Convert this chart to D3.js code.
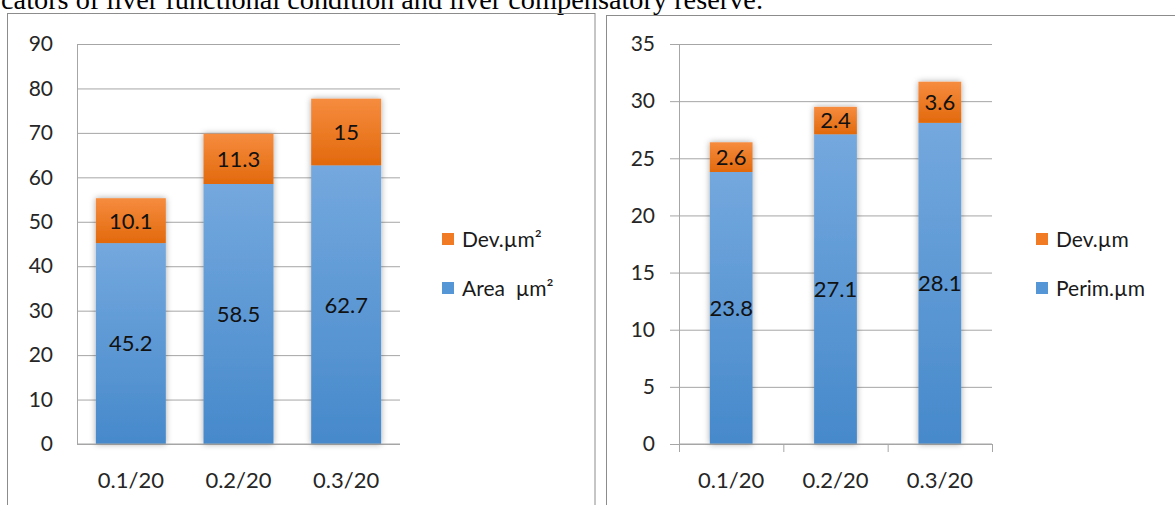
<!DOCTYPE html>
<html>
<head>
<meta charset="utf-8">
<script src="https://cdn.jsdelivr.net/npm/d3@7"></script>
<style>
  body { margin: 0; background: #fff; overflow: hidden; }
  svg { display: block; }
  .tick-label { font-family: Lato, "Open Sans", sans-serif; font-size: 21px; fill: #262626; }
  .x-label { font-family: Lato, "Open Sans", sans-serif; font-size: 22px; fill: #262626; }
  .bar-label { font-family: Lato, "Open Sans", sans-serif; font-size: 22px; fill: #111; }
  .legend-label { font-family: Lato, "Open Sans", sans-serif; font-size: 21px; fill: #1a1a1a; white-space: pre; }
</style>
</head>
<body>
<div id="chart"></div>
<script>
// data
const categories = ["0.1/20", "0.2/20", "0.3/20"];
const areaValues = [45.2, 58.5, 62.7];
const areaDev = [10.1, 11.3, 15];
const perimValues = [23.8, 27.1, 28.1];
const perimDev = [2.6, 2.4, 3.6];
const areaTicks = [0, 10, 20, 30, 40, 50, 60, 70, 80, 90];
const perimTicks = [0, 5, 10, 15, 20, 25, 30, 35];
const areaLegend = ["Dev.µm²", "Area  µm²"];
const perimLegend = ["Dev.µm", "Perim.µm"];

const width = 1175, height = 505;

const svg = d3.select("#chart")
  .append("svg")
  .attr("width", width)
  .attr("height", height);

// gradients + shadow
const defs = svg.append("defs");
const grad = (id, top, bottom) => {
  const g = defs.append("linearGradient").attr("id", id)
    .attr("x1", 0).attr("y1", 0).attr("x2", 0).attr("y2", 1);
  g.append("stop").attr("offset", "0%").attr("stop-color", top);
  g.append("stop").attr("offset", "100%").attr("stop-color", bottom);
};
grad("blueGrad", "#74a8de", "#4689cb");
grad("orangeGrad", "#f68c3f", "#e2690c");
const shadow = defs.append("filter").attr("id", "shadow")
  .attr("x", "-30%").attr("y", "-10%").attr("width", "160%").attr("height", "120%");
shadow.append("feDropShadow")
  .attr("dx", 0).attr("dy", 0).attr("stdDeviation", 3)
  .attr("flood-color", "#000").attr("flood-opacity", 0.35);

// caption line from the page (top of the glyphs is cut in the source too)
svg.append("text")
  .text("cators of liver functional condition and liver compensatory reserve.")
  .attr("x", 1)
  .attr("y", 9)
  .attr("textLength", 762)
  .attr("lengthAdjust", "spacingAndGlyphs")
  .attr("font-family", "'Liberation Serif', 'Times New Roman', serif")
  .attr("font-size", 27)
  .attr("fill", "#000");

// panel borders
svg.append("rect")
  .attr("x", 7.5).attr("y", 13.5).attr("width", 587.5).attr("height", 520)
  .attr("fill", "none").attr("stroke", "#8c8c8c");
svg.append("rect")
  .attr("x", 606.5).attr("y", 15.5).attr("width", 600).attr("height", 520)
  .attr("fill", "none").attr("stroke", "#8c8c8c");

const drawStacked = (opt) => {
  const { left, right, top, bottom, maxY, ticks, values, dev, padding, outerTicks, legend, legendX } = opt;

  const g = svg.append("g");

  const xScale = d3.scaleBand()
    .domain(categories)
    .range([left, right])
    .paddingInner(padding)
    .paddingOuter(padding / 2);

  const yScale = d3.scaleLinear()
    .domain([0, maxY])
    .range([bottom, top]);

  // gridlines
  const grid = g.append("g")
    .attr("transform", `translate(${left},0)`)
    .call(d3.axisLeft(yScale).tickValues(ticks).tickSize(-(right - left)).tickFormat(""));
  grid.select(".domain").remove();
  grid.selectAll(".tick line").attr("stroke", "#a6a6a6");

  // y axis labels + line
  const yAxis = g.append("g")
    .attr("transform", `translate(${left},0)`)
    .call(d3.axisLeft(yScale).tickValues(ticks).tickSize(outerTicks ? 9 : 0).tickPadding(outerTicks ? 15 : 24));
  yAxis.select(".domain").attr("stroke", "#a6a6a6");
  yAxis.selectAll(".tick line").attr("stroke", "#a6a6a6");
  yAxis.selectAll(".tick text").attr("class", "tick-label").attr("fill", null);

  // stacked bars
  const rows = categories.map((c, i) => ({ cat: c, base: values[i], dev: dev[i] }));
  const stack = d3.stack().keys(["base", "dev"])(rows);
  const fills = { base: "url(#blueGrad)", dev: "url(#orangeGrad)" };

  const barGroup = g.append("g");
  categories.forEach((c, i) => {
    const bg = barGroup.append("g").attr("filter", "url(#shadow)");
    stack.forEach(layer => {
      const d = layer[i];
      bg.append("rect")
        .attr("x", xScale(c))
        .attr("y", yScale(d[1]))
        .attr("width", xScale.bandwidth())
        .attr("height", yScale(d[0]) - yScale(d[1]))
        .attr("fill", fills[layer.key]);
    });
  });

  // bar labels
  stack.forEach(layer => {
    g.append("g").selectAll("text")
      .data(layer)
      .join("text")
      .attr("class", "bar-label")
      .attr("x", d => xScale(d.data.cat) + xScale.bandwidth() / 2)
      .attr("y", d => (yScale(d[0]) + yScale(d[1])) / 2)
      .attr("dy", "0.36em")
      .attr("text-anchor", "middle")
      .text(d => d.data[layer.key]);
  });

  // x axis line
  g.append("line")
    .attr("x1", left).attr("x2", right)
    .attr("y1", bottom).attr("y2", bottom)
    .attr("stroke", "#a6a6a6");

  if (outerTicks) {
    const edge = d3.scaleLinear().domain([0, categories.length]).range([left, right]);
    const ex = g.append("g")
      .attr("transform", `translate(0,${bottom})`)
      .call(d3.axisBottom(edge).tickValues(d3.range(categories.length + 1)).tickSize(8).tickFormat(""));
    ex.select(".domain").remove();
    ex.selectAll(".tick line").attr("stroke", "#a6a6a6");
  }

  const xAxis = g.append("g")
    .attr("transform", `translate(0,${bottom})`)
    .call(d3.axisBottom(xScale).tickSize(0).tickPadding(28));
  xAxis.select(".domain").remove();
  xAxis.selectAll(".tick text").attr("class", "x-label").attr("fill", null);

  // legend
  const legendFills = ["#f07b24", "#5596d6"];
  legend.forEach((name, i) => {
    const ly = 239 + i * 49;
    g.append("rect")
      .attr("x", legendX).attr("y", ly - 6)
      .attr("width", 12).attr("height", 12)
      .attr("fill", legendFills[i]);
    g.append("text")
      .attr("class", "legend-label")
      .attr("x", legendX + 20).attr("y", ly)
      .attr("dy", "0.36em")
      .text(name);
  });
};

drawStacked({
  left: 77, right: 400, top: 44, bottom: 444, maxY: 90, ticks: areaTicks,
  values: areaValues, dev: areaDev, padding: 0.35, outerTicks: false,
  legend: areaLegend, legendX: 442
});

drawStacked({
  left: 679, right: 992, top: 44, bottom: 444, maxY: 35, ticks: perimTicks,
  values: perimValues, dev: perimDev, padding: 0.59, outerTicks: true,
  legend: perimLegend, legendX: 1036
});
</script>
</body>
</html>
